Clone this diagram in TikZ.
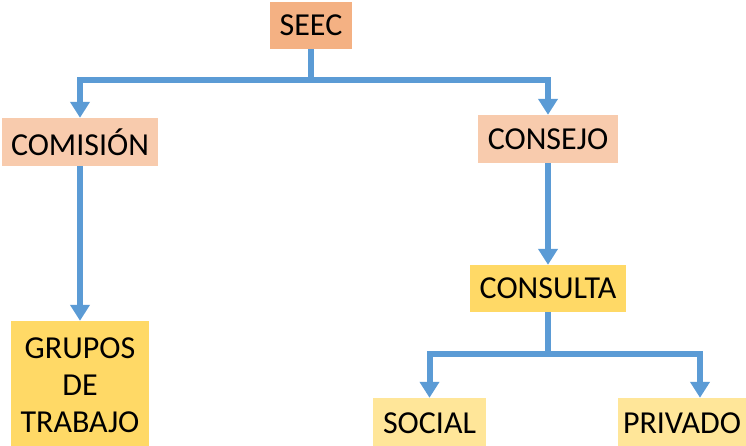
\documentclass[tikz,border=0pt]{standalone}
\usepackage{fontspec}
\setmainfont{Carlito}
\usetikzlibrary{arrows.meta,calc,positioning}

\definecolor{salmon}{HTML}{F4B183}
\definecolor{peach}{HTML}{F8CBAD}
\definecolor{gold}{HTML}{FFD966}
\definecolor{lightgold}{HTML}{FFE699}
\definecolor{linkblue}{HTML}{5B9BD5}

\begin{document}
\begin{tikzpicture}[x=1pt, y=-1pt,
  box/.style={inner sep=0pt, font=\fontsize{32}{37}\selectfont, align=center},
  flow/.style={linkblue, line width=6pt, -{Triangle[length=16pt, width=19pt]}}]
\useasboundingbox (0,0) rectangle (746,445);

% Top level
\node[box, fill=salmon, minimum width=82pt, minimum height=47pt] (seec) at (311,25.5) {SEEC};

% Second level (peach)
\node[box, fill=peach, minimum width=156pt, minimum height=48pt] (comision) at (80,142) {COMISIÓN};
\node[box, fill=peach, minimum width=140pt, minimum height=48pt] (consejo) at (548,139) {CONSEJO};

% Third level (yellow)
\node[box, fill=gold, minimum width=156pt, minimum height=47pt] (consulta) at (548,288.5) {CONSULTA};
\node[box, fill=gold, minimum width=138pt, minimum height=128pt] (grupos) at (80,385) {GRUPOS\\DE\\TRABAJO};

% Bottom level (light yellow)
\node[box, fill=lightgold, minimum width=113pt, minimum height=50pt] (social) at (429.5,423) {SOCIAL};
\node[box, fill=lightgold, minimum width=128pt, minimum height=50pt] (privado) at (682,423) {PRIVADO};

% Branch points
\coordinate (split1) at (311,80);
\coordinate (split2) at (548,354);

% Connectors
\draw[flow] (seec.south) -- (split1) -| (comision.north);
\draw[flow] (split1) -| (consejo.north);
\draw[flow] (comision.south) -- (grupos.north);
\draw[flow] (consejo.south) -- (consulta.north);
\draw[flow] (consulta.south) -- (split2) -| ([xshift=18pt]privado.north);
\draw[flow] (split2) -| (social.north);
\end{tikzpicture}
\end{document}
